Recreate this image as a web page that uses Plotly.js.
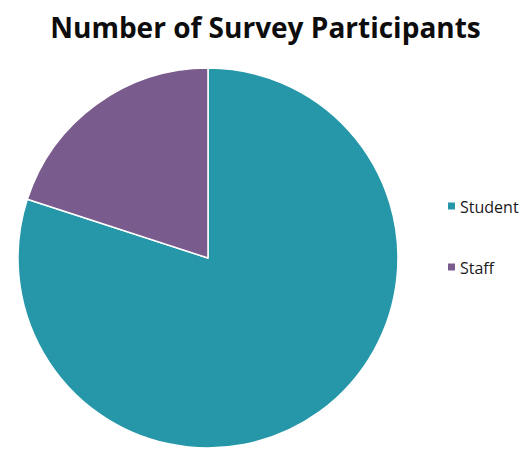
<!DOCTYPE html>
<html>
<head>
<meta charset="utf-8">
<script src="https://cdn.plot.ly/plotly-3.0.1.min.js"></script>
<style>html,body{margin:0;padding:0;background:#fff;}#chart{width:531px;height:453px;}</style>
</head>
<body>
<div id="chart"></div>
<script>
const categories = ["Student", "Staff"];
const values = [80, 20];
const colors = ["#2597a9", "#7a5b8d"];
const chartTitle = "Number of Survey Participants";

const trace = {
  type: "pie",
  labels: categories,
  values: values,
  sort: false,
  direction: "clockwise",
  rotation: 0,
  textinfo: "none",
  hoverinfo: "label+value+percent",
  marker: {colors: colors, line: {color: "#ffffff", width: 1.5}},
  domain: {x: [0.0339, 0.7495], y: [0.0110, 0.8499]},
  showlegend: false
};

const legendY = [206, 267];
const shapes = [];
const annotations = [];
categories.forEach((c, i) => {
  const y = legendY[i];
  shapes.push({type: "rect", xref: "paper", yref: "paper",
    x0: 448/531, x1: 455/531, y0: 1 - (y - 3.5)/453, y1: 1 - (y + 3.5)/453,
    fillcolor: colors[i], line: {width: 0}});
  annotations.push({xref: "paper", yref: "paper", x: 458/531, y: 1 - (y + 1)/453,
    xanchor: "left", yanchor: "middle", showarrow: false, text: c,
    font: {family: "Open Sans, sans-serif", size: 16, color: "#1a1a1a"}});
});

const layout = {
  width: 531, height: 453,
  margin: {l: 0, r: 0, t: 0, b: 0},
  paper_bgcolor: "#ffffff",
  title: {text: "<b>" + chartTitle + "</b>", x: 0.5, xanchor: "center", y: 1 - 28/453, yanchor: "middle",
    font: {family: "Open Sans, sans-serif", size: 28, color: "#0d0d0d"}},
  shapes: shapes,
  annotations: annotations
};

Plotly.newPlot("chart", [trace], layout, {displayModeBar: false, staticPlot: true});
</script>
</body>
</html>
